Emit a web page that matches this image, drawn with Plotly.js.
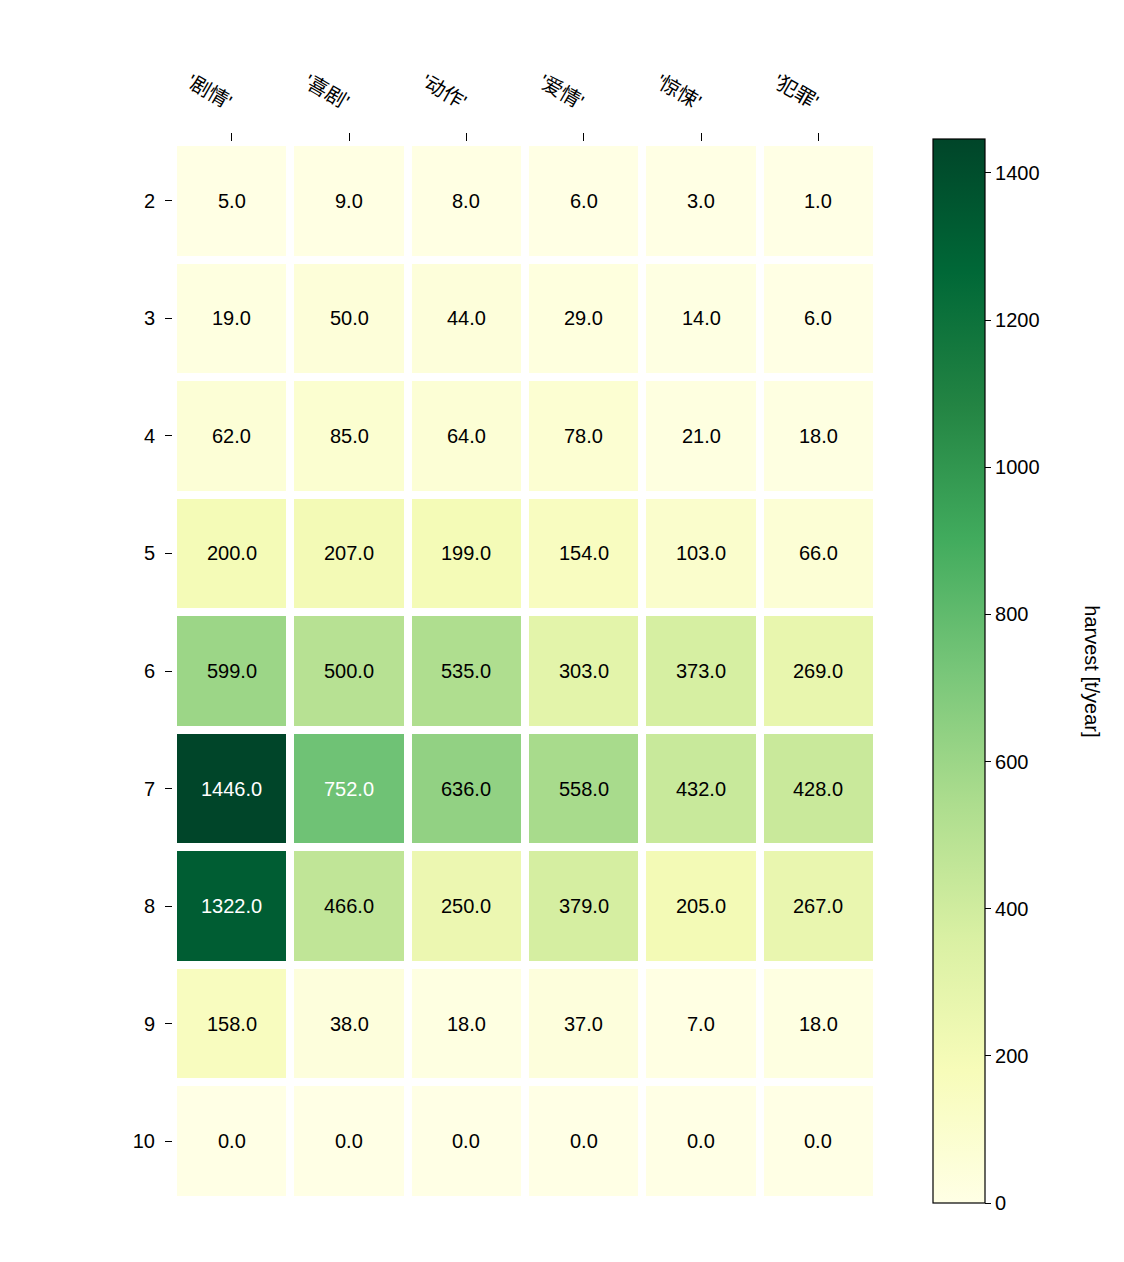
<!DOCTYPE html>
<html>
<head>
<meta charset="utf-8">
<script src="https://cdn.plot.ly/plotly-3.0.1.min.js"></script>
<style>body{margin:0;background:#fff}</style>
</head>
<body>
<div id="chart" style="width:1124px;height:1262px"></div>
<script>
const genres = ["'剧情'", "'喜剧'", "'动作'", "'爱情'", "'惊悚'", "'犯罪'"];
const months = ['2', '3', '4', '5', '6', '7', '8', '9', '10'];
const harvest = [
  [5, 9, 8, 6, 3, 1],
  [19, 50, 44, 29, 14, 6],
  [62, 85, 64, 78, 21, 18],
  [200, 207, 199, 154, 103, 66],
  [599, 500, 535, 303, 373, 269],
  [1446, 752, 636, 558, 432, 428],
  [1322, 466, 250, 379, 205, 267],
  [158, 38, 18, 37, 7, 18],
  [0, 0, 0, 0, 0, 0],
];

const ylgn = ['#ffffe5', '#f7fcb9', '#d9f0a3', '#addd8e', '#78c679',
  '#41ab5d', '#238443', '#006837', '#004529'];
const colorscale = ylgn.map((c, i) => [i / (ylgn.length - 1), c]);
const zmax = Math.max(...harvest.flat());

const font = {family: 'Liberation Sans, Arial, Noto Sans CJK SC, sans-serif', size: 20, color: '#000'};

const annotations = [];
months.forEach((m, i) => {
  genres.forEach((g, j) => {
    const v = harvest[i][j];
    annotations.push({
      x: g, y: m, text: v.toFixed(1), showarrow: false,
      font: {family: font.family, size: 20, color: v > zmax / 2 ? '#fff' : '#000'},
    });
  });
});
annotations.push({
  xref: 'paper', yref: 'paper', x: 1.305, y: 0.5, xanchor: 'center',
  text: 'harvest [t/year]', textangle: 90, showarrow: false, font: font,
});

const data = [{
  type: 'heatmap',
  x: genres, y: months, z: harvest,
  colorscale: colorscale, zmin: 0, zmax: zmax,
  xgap: 8, ygap: 8,
  hoverinfo: 'none',
  colorbar: {
    x: 1.0795, xanchor: 'left', thickness: 52, len: 1.006, y: 0.5,
    xpad: 0, ypad: 0,
    outlinecolor: '#000', outlinewidth: 1.2,
    ticks: 'outside', ticklen: 6, tickcolor: '#000', dtick: 200,
    tickfont: font, ticklabelstandoff: 4,
  },
}];

const layout = {
  width: 1124, height: 1262,
  margin: {l: 173, r: 247, t: 142, b: 62},
  paper_bgcolor: '#fff', plot_bgcolor: '#fff',
  font: font,
  xaxis: {
    side: 'top', ticks: 'outside', ticklen: 8, tickcolor: '#000',
    tickangle: 30, showgrid: false, zeroline: false, showline: false,
    tickfont: font, ticklabelstandoff: 14,
  },
  yaxis: {
    autorange: 'reversed', ticks: 'outside', ticklen: 7, tickcolor: '#000',
    showgrid: false, zeroline: false, showline: false, tickfont: font,
    ticklabelstandoff: 6,
  },
  annotations: annotations,
};

Plotly.newPlot('chart', data, layout, {staticPlot: true});
</script>
</body>
</html>
